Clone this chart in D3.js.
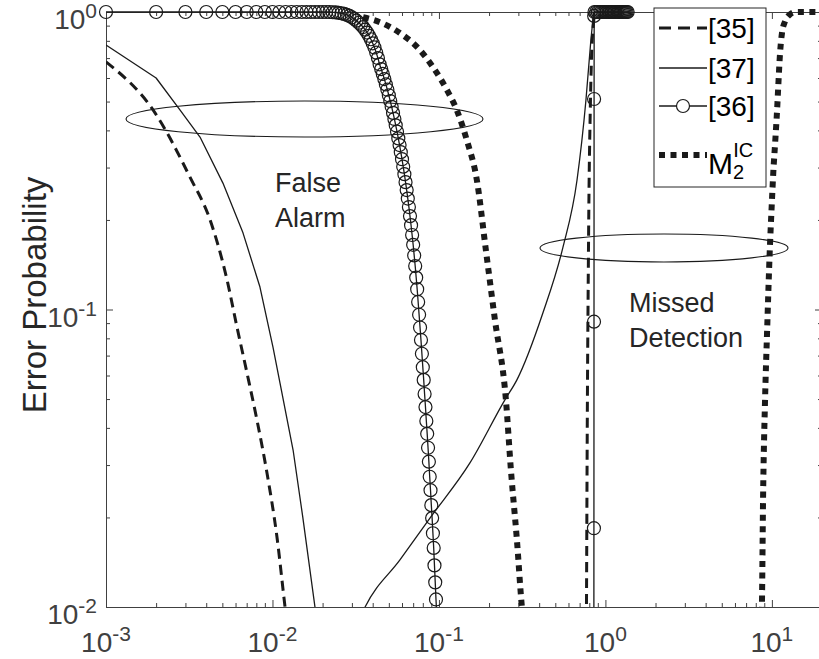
<!DOCTYPE html>
<html lang="en">
<head>
<meta charset="utf-8">
<style>
  body { margin: 0; background: #fff; }
  text { font-family: "Liberation Sans", Arial, sans-serif; }
</style>
</head>
<body>
<svg id="chart" width="819" height="659"></svg>
<script src="https://cdn.jsdelivr.net/npm/d3@7"></script>
<script>
// ---- data ----
var xMajor = [0.001, 0.01, 0.1, 1, 10];
var xExp = ["-3", "-2", "-1", "0", "1"];
var xMinor = [0.002,0.003,0.004,0.005,0.006,0.007,0.008,0.009,
              0.02,0.03,0.04,0.05,0.06,0.07,0.08,0.09,
              0.2,0.3,0.4,0.5,0.6,0.7,0.8,0.9,
              2,3,4,5,6,7,8,9];
var yMajor = [0.01, 0.1, 1];
var yExp = ["-2", "-1", "0"];
var yMinor = [0.02,0.03,0.04,0.05,0.06,0.07,0.08,0.09,
              0.2,0.3,0.4,0.5,0.6,0.7,0.8,0.9];

// [35] dashed
var fa35X = [0.001, 0.00197, 0.00319, 0.00422, 0.00533, 0.00612, 0.00703, 0.00807, 0.00927, 0.01064, 0.0119, 0.0125];
var fa35Y = [0.68, 0.458, 0.279, 0.20, 0.126, 0.0873, 0.0612, 0.0425, 0.0282, 0.0172, 0.0100, 0.008];
var md35X = [0.768, 0.772, 0.776, 0.781, 0.788, 0.797, 0.81, 0.825, 0.845, 0.87];
var md35Y = [0.008, 0.015, 0.03, 0.06, 0.12, 0.25, 0.45, 0.7, 0.9, 1.0];

// [37] solid
var fa37X = [0.001, 0.002, 0.00278, 0.00367, 0.00504, 0.00665, 0.00841, 0.01007, 0.0111, 0.0133, 0.0152, 0.018, 0.0188];
var fa37Y = [0.775, 0.60, 0.469, 0.38, 0.266, 0.181, 0.119, 0.0748, 0.0566, 0.0337, 0.0201, 0.0100, 0.008];
var md37X = [0.033, 0.036, 0.0583, 0.0883, 0.1535, 0.249, 0.294, 0.421, 0.556, 0.675, 0.764, 0.818, 0.85];
var md37Y = [0.009, 0.010, 0.0144, 0.0199, 0.0305, 0.0497, 0.058, 0.0973, 0.162, 0.272, 0.506, 0.805, 1.0];

// [36] circles, one marker per sample
var fa36X = [0.001,0.002,0.003,0.004,0.005,0.006,0.007,0.008,0.009,0.010,
             0.011,0.012,0.013,0.014,0.015,0.016,0.017,0.018,0.019,0.020,
             0.021,0.022,0.023,0.024,0.025,0.026,0.027,0.028,0.029,0.030,
             0.031,0.032,0.033,0.034,0.035,0.036,0.037,0.038,0.039,0.040,
             0.041,0.042,0.043,0.044,0.045,0.046,0.047,0.048,0.049,0.050,
             0.051,0.052,0.053,0.054,0.055,0.056,0.057,0.058,0.059,0.060,
             0.061,0.062,0.063,0.064,0.065,0.066,0.067,0.068,0.069,0.070,
             0.071,0.072,0.073,0.074,0.075,0.076,0.077,0.078,0.079,0.080,
             0.081,0.082,0.083,0.084,0.085,0.086,0.087,0.088,0.089,0.090,
             0.091,0.092,0.093,0.094,0.095,0.096,0.097];
var fa36Y = [1,1,1,1,1,1,1,1,1,1,
             1,1,1,1,1,1,1,1,1,1,
             1,1,0.998,0.997,0.994,0.99,0.985,0.978,0.97,0.96,
             0.948,0.935,0.92,0.906,0.89,0.872,0.853,0.832,0.81,0.785,
             0.76,0.73,0.70,0.667,0.643,0.619,0.595,0.571,0.548,0.525,
             0.502,0.48,0.458,0.437,0.416,0.396,0.376,0.357,0.338,0.32,
             0.302,0.285,0.268,0.252,0.236,0.221,0.206,0.192,0.178,0.165,
             0.152,0.14,0.128,0.117,0.106,0.096,0.087,0.079,0.071,0.064,
             0.058,0.052,0.047,0.0422,0.0382,0.0343,0.0308,0.0274,0.0247,0.022,
             0.0199,0.0177,0.0158,0.0138,0.0121,0.0106,0.0094];
var md36X = [0.851, 0.852, 0.853, 0.854, 0.855, 0.856, 0.86, 0.88, 0.90, 0.92, 0.94, 0.96, 0.98,
             1.00, 1.02, 1.04, 1.06, 1.08, 1.10, 1.12, 1.14, 1.16, 1.18, 1.20, 1.22, 1.24,
             1.26, 1.28, 1.30, 1.32, 1.34, 1.36];
var md36Y = [0.001, 0.004, 0.0184, 0.091, 0.51, 0.97, 1, 1, 1, 1, 1, 1, 1,
             1, 1, 1, 1, 1, 1, 1, 1, 1, 1, 1, 1, 1,
             1, 1, 1, 1, 1, 1];

// M2^IC thick dotted
var fa2X = [0.035, 0.045, 0.0583, 0.0769, 0.092, 0.1117, 0.128, 0.147, 0.169, 0.1915, 0.217, 0.2526, 0.2706, 0.294, 0.315, 0.325];
var fa2Y = [0.96, 0.92, 0.85, 0.745, 0.653, 0.547, 0.468, 0.371, 0.272, 0.158, 0.0922, 0.0496, 0.0289, 0.0168, 0.0100, 0.0085];
var md2X = [8.6, 8.71, 8.85, 9.1, 9.35, 9.7, 10.0, 10.2, 10.45, 10.75, 10.9, 11.2, 11.5, 12.0, 12.8, 14, 20];
var md2Y = [0.008, 0.01, 0.023, 0.05, 0.083, 0.155, 0.23, 0.29, 0.36, 0.47, 0.55, 0.73, 0.85, 0.93, 0.98, 1, 1];

var legendNames = ["[35]", "[37]", "[36]"];

// ---- layout ----
var L = 106, R = 822, T = 12, B = 607;
var axisCol = "#404040", inkCol = "#1a1a1a";

var svg = d3.select("#chart");
var x = d3.scaleLog().domain([0.001, 20]).range([L, R]);
var y = d3.scaleLog().domain([0.01, 1]).range([B, T]);

function zip(a, b) { return a.map(function(v, i) { return [v, b[i]]; }); }

svg.append("rect").attr("x", L).attr("y", T).attr("width", R - L).attr("height", B - T).attr("fill", "#fff");

svg.append("clipPath").attr("id", "clip")
  .append("rect").attr("x", L).attr("y", T - 7).attr("width", R - L).attr("height", B - T + 7);

// axes: ticks point inward, box on
function drawAxis(gen, tr, vals, size) {
  var g = svg.append("g").attr("transform", tr)
    .call(gen.tickValues(vals).tickSize(size).tickSizeOuter(0).tickFormat(""));
  g.selectAll("path, line").attr("stroke", axisCol).attr("stroke-width", 1);
  return g;
}
drawAxis(d3.axisBottom(x), "translate(0," + B + ")", xMinor, -4);
drawAxis(d3.axisBottom(x), "translate(0," + B + ")", xMajor, -7);
drawAxis(d3.axisTop(x), "translate(0," + T + ")", xMinor, -4);
drawAxis(d3.axisTop(x), "translate(0," + T + ")", xMajor, -7);
drawAxis(d3.axisLeft(y), "translate(" + L + ",0)", yMinor, -4);
drawAxis(d3.axisLeft(y), "translate(" + L + ",0)", yMajor, -7);
drawAxis(d3.axisRight(y), "translate(" + R + ",0)", yMinor, -4);
drawAxis(d3.axisRight(y), "translate(" + R + ",0)", yMajor, -7);

// tick labels 10^k
xMajor.forEach(function(v, i) {
  var t = svg.append("text").attr("x", x(v)).attr("y", 652)
    .attr("text-anchor", "middle").attr("fill", axisCol).attr("font-size", 28);
  t.append("tspan").text("10");
  t.append("tspan").attr("dy", -11).attr("font-size", 21).text(xExp[i]);
});
yMajor.forEach(function(v, i) {
  var t = svg.append("text").attr("x", 97).attr("y", y(v) + 17)
    .attr("text-anchor", "end").attr("fill", axisCol).attr("font-size", 28);
  t.append("tspan").text("10");
  t.append("tspan").attr("dy", -11).attr("font-size", 21).text(yExp[i]);
});

svg.append("text").attr("transform", "translate(46,295) rotate(-90)")
  .attr("text-anchor", "middle").attr("fill", "#262626").attr("font-size", 33)
  .text("Error Probability");

// ---- curves ----
var line = d3.line().x(function(d) { return x(d[0]); }).y(function(d) { return y(d[1]); });
var smooth = d3.line().curve(d3.curveMonotoneX)
  .x(function(d) { return x(d[0]); }).y(function(d) { return y(d[1]); });
var plot = svg.append("g").attr("clip-path", "url(#clip)");

function curve(data, w, dash, gen) {
  plot.append("path").datum(data).attr("d", gen || line)
    .attr("fill", "none").attr("stroke", inkCol).attr("stroke-width", w)
    .attr("stroke-dasharray", dash || null).attr("stroke-linejoin", "round");
}
curve(zip(fa35X, fa35Y), 3, "10,6", smooth);
curve(zip(md35X, md35Y), 3, "10,6", smooth);
curve(zip(fa37X, fa37Y), 1.3);
curve(zip(md37X, md37Y), 1.3, null, smooth);
curve(zip(fa36X, fa36Y), 1.3);
curve(zip(md36X, md36Y), 1.3);
curve(zip(fa2X, fa2Y), 6, "6,5.5", smooth);
curve(zip(md2X, md2Y), 6, "6,5.5", smooth);

var marks = zip(fa36X, fa36Y).concat(zip(md36X, md36Y)).filter(function(d) {
  return d[1] >= 0.01 && d[1] <= 1;
});
svg.append("g").selectAll("circle").data(marks).join("circle")
  .attr("cx", function(d) { return x(d[0]); })
  .attr("cy", function(d) { return y(d[1]); })
  .attr("r", 6.5).attr("fill", "none").attr("stroke", inkCol).attr("stroke-width", 1.2);

// ---- annotations ----
svg.append("ellipse").attr("cx", 304.5).attr("cy", 119).attr("rx", 178.5).attr("ry", 18)
  .attr("fill", "none").attr("stroke", inkCol).attr("stroke-width", 1.1);
svg.append("ellipse").attr("cx", 664).attr("cy", 248).attr("rx", 124).attr("ry", 14)
  .attr("fill", "none").attr("stroke", inkCol).attr("stroke-width", 1.1);

function label(lines, lx, ly) {
  lines.forEach(function(s, i) {
    svg.append("text").attr("x", lx).attr("y", ly + i * 35)
      .attr("fill", "#262626").attr("font-size", 27).text(s);
  });
}
label(["False", "Alarm"], 275, 192);
label(["Missed", "Detection"], 629, 312);

// ---- legend ----
var lg = svg.append("g");
lg.append("rect").attr("x", 654).attr("y", 8).attr("width", 112).attr("height", 179)
  .attr("fill", "#fff").attr("stroke", "#262626").attr("stroke-width", 1);
var rowY = [28, 68, 106, 155];
var styles = [{w: 3, dash: "12,7"}, {w: 1.3}, {w: 1.3}, {w: 6, dash: "6,5.5"}];
rowY.forEach(function(ry, i) {
  lg.append("line").attr("x1", 659).attr("x2", 707).attr("y1", ry).attr("y2", ry)
    .attr("stroke", inkCol).attr("stroke-width", styles[i].w)
    .attr("stroke-dasharray", styles[i].dash || null);
  if (i < 3) {
    lg.append("text").attr("x", 708).attr("y", ry + 10).attr("fill", "#000")
      .attr("font-size", 28).text(legendNames[i]);
  }
});
lg.append("circle").attr("cx", 683).attr("cy", rowY[2]).attr("r", 6.5)
  .attr("fill", "#fff").attr("stroke", inkCol).attr("stroke-width", 1.2);
var mt = lg.append("text").attr("x", 708).attr("y", 174).attr("fill", "#000").attr("font-size", 30);
mt.append("tspan").text("M");
mt.append("tspan").attr("dy", 5).attr("font-size", 20).text("2");
mt.append("tspan").attr("dx", -11).attr("dy", -22).attr("font-size", 20).text("IC");
</script>
</body>
</html>
